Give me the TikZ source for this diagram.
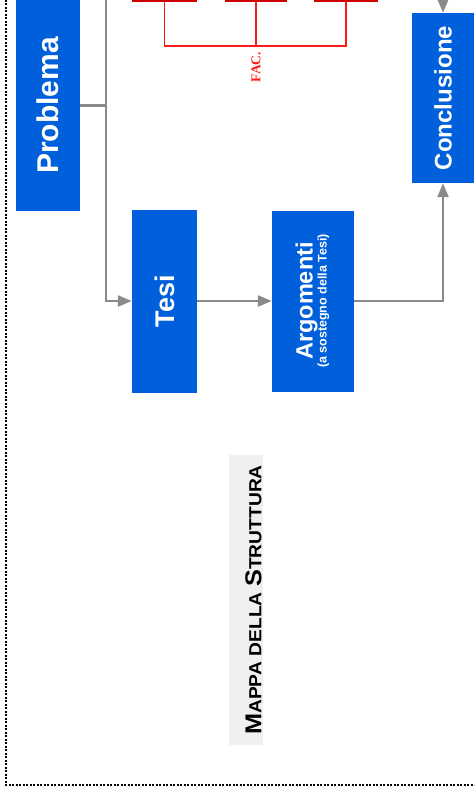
\documentclass[tikz,border=0pt]{standalone}
\usepackage{fontspec}
\usepackage{xcolor}
\usepackage{tikz}
\usetikzlibrary{arrows.meta,positioning,calc}
\newfontfamily\sansf{Liberation Sans}
\newfontfamily\seriff{Liberation Serif}
\definecolor{boxblue}{HTML}{0060DB}
\definecolor{lineg}{HTML}{8A8A8A}
\definecolor{darkred}{HTML}{CC0000}
\definecolor{linered}{HTML}{FF1A1A}
\definecolor{titlegray}{HTML}{F0F0F0}
\tikzset{
  blubox/.style={fill=boxblue,text=white,inner sep=0pt,font=\sansf\bfseries},
  redbox/.style={fill=darkred,inner sep=0pt},
  grayline/.style={draw=lineg,line width=2.4pt,-{Triangle[length=14pt,width=11pt]}},
  redline/.style={draw=linered,line width=1.6pt},
}
\begin{document}
\begin{tikzpicture}[x=1pt,y=-1pt]
\clip (0,0) rectangle (474,789);
\draw[line width=2pt,dash pattern=on 2pt off 1.5pt] (6,0) -- (6,785) -- (480,785);
% blocchi principali
\node[blubox,minimum width=64,minimum height=211] (prob) at (48,105.5) {\rotatebox{90}{\fontsize{30}{30}\selectfont Problema}};
\node[blubox,minimum width=65,minimum height=183] (tesi) at (164.5,301) {\rotatebox{90}{\fontsize{27}{27}\selectfont Tesi}};
\node[blubox,minimum width=82,minimum height=181] (arg) at (313,301) {\rotatebox{90}{\begin{tabular}{@{}c@{}}\fontsize{23.5}{24}\selectfont Argomenti\\[0pt]\fontsize{12.5}{13}\selectfont (a sostegno della Tesi)\end{tabular}}};
\node[blubox,minimum width=62,minimum height=170] (concl) at (443,98) {\rotatebox{90}{\fontsize{24}{24}\selectfont Conclusione}};
% fattori in alto
\node[redbox,minimum width=65,minimum height=20] (fa) at (164.5,-8) {};
\node[redbox,minimum width=62,minimum height=20] (fb) at (256,-8) {};
\node[redbox,minimum width=64,minimum height=20] (fc) at (346,-8) {};
\coordinate (fj) at (256,46);
\draw[redline] (fa.south) |- (fj) -| (fc.south);
\draw[redline] (fb.south) -- (fj);
\node[text=linered,font=\seriff\bfseries,inner sep=0pt] (fac) at (256,67) {\rotatebox{90}{\fontsize{13.5}{14}\selectfont FAC.}};
% connettori
\coordinate (ptop) at (106,0);
\coordinate (ctop) at (443,0);
\draw[draw=lineg,line width=2.4pt] (prob.east) -- (prob.east -| ptop);
\draw[grayline] (ptop) |- (tesi.west);
\draw[grayline] (tesi) -- (arg);
\draw[grayline] (arg.east) -| (concl.south);
\draw[grayline] (ctop) -- (concl.north);
% titolo
\node[fill=titlegray,minimum width=34,minimum height=290,inner sep=0pt] (titlebg) at (246,600) {};
\node[inner sep=0pt,font=\sansf\bfseries] (title) at (253.5,600) {\rotatebox{90}{\scalebox{1.1}[1]{\fontsize{23}{23}\selectfont M\fontsize{17.5}{17.5}\selectfont APPA DELLA \fontsize{23}{23}\selectfont S\fontsize{17.5}{17.5}\selectfont TRUTTURA}}};
\end{tikzpicture}
\end{document}
